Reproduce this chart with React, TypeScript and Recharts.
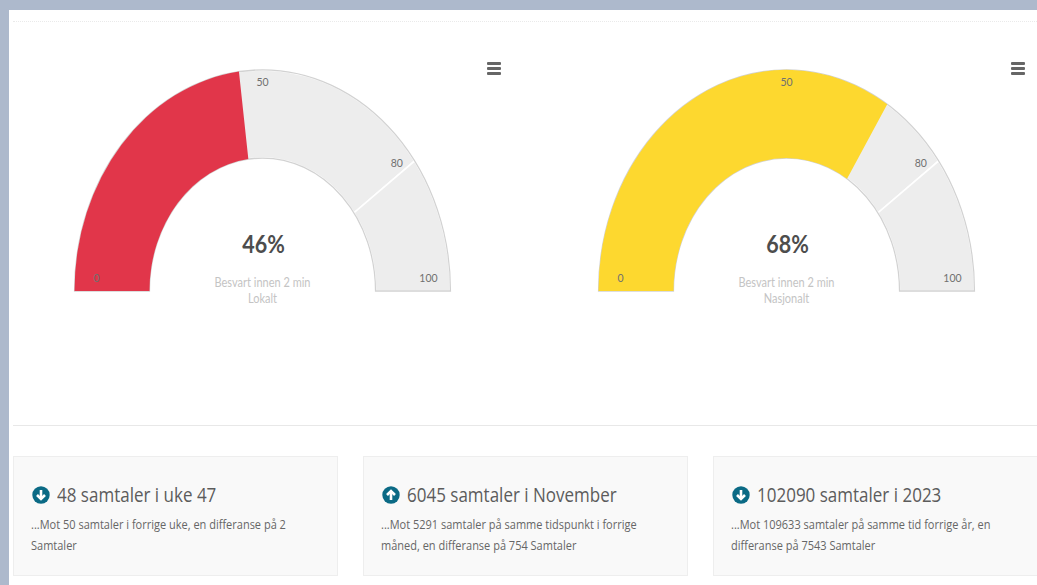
import { PieChart, Pie, Cell } from "recharts";

const gaugeTitles = ["Lokalt", "Nasjonalt"];
const gaugeValues = [46, 68];
const gaugeColors = ["#e1364a", "#fdd82f"];
const axisTicks = [0, 50, 80, 100];
const tickSpans = [0, 50, 30, 20];
const bandValues = [80, 20];
const cardUp = [false, true, false];
const cardTitles = ["48 samtaler i uke 47", "6045 samtaler i November", "102090 samtaler i 2023"];
const cardLines = [
  ["...Mot 50 samtaler i forrige uke, en differanse på 2", "Samtaler"],
  ["...Mot 5291 samtaler på samme tidspunkt i forrige", "måned, en differanse på 754 Samtaler"],
  ["...Mot 109633 samtaler på samme tid forrige år, en", "differanse på 7543 Samtaler"],
];

const CX = 250.5;
const CY = 228.7;
const OUTER = 188;
const INNER = 113;
const STRETCH = 1.176;
const gaugeFont = "Lato, 'Open Sans', sans-serif";

// tick label sits at the end angle of its span, 22px inside the rim and lifted 12px like the original
function renderTick(props: any) {
  const a = (props.endAngle * Math.PI) / 180;
  return (
    <text key={props.index} x={props.cx + 166 * Math.cos(a)} y={props.cy - 166 * Math.sin(a) - 12} dy={4} fontFamily={gaugeFont} fontSize={10.5} textAnchor="middle" fill="#707070">
      {axisTicks[props.index]}
    </text>
  );
}

function GaugeText({ value, title }: { value: number; title: string }) {
  return (
    <g fontFamily={gaugeFont} textAnchor="middle">
      <text x={CX + 1} y={CY - 32} fontSize={21.5} fontWeight={700} fill="#4d4d4d">{value}%</text>
      <text x={CX} y={CY - 3} fontSize={11} fill="#c4c4c4">Besvart innen 2 min</text>
      <text x={CX} y={CY + 10} fontSize={11} fill="#c4c4c4">{title}</text>
    </g>
  );
}

function Gauge({ value, color, title, left }: { value: number; color: string; title: string; left: number }) {
  const common = { cx: CX, cy: CY, startAngle: 180, endAngle: 0, innerRadius: INNER, outerRadius: OUTER, dataKey: "v", isAnimationActive: false };
  return (
    <div style={{ position: "absolute", left, top: 22, transform: `scaleY(${STRETCH})`, transformOrigin: "top left" }}>
      <PieChart width={505} height={300} margin={{ top: 0, right: 0, bottom: 0, left: 0 }}>
        <Pie {...common} data={bandValues.map(v => ({ v }))} fill="#ededed" stroke="#fff" strokeWidth={1.5} />
        <Pie {...common} data={[{ v: 100 }]} fill="none" stroke="#d2d2d2" strokeWidth={1.2} />
        <Pie {...common} data={[{ v: value }, { v: 100 - value }]} stroke="none">
          <Cell fill={color} />
          <Cell fill="none" />
        </Pie>
        <Pie {...common} data={tickSpans.map(v => ({ v }))} fill="none" stroke="none" label={renderTick} labelLine={false} />
        <GaugeText value={value} title={title} />
      </PieChart>
    </div>
  );
}

function MenuIcon({ left }: { left: number }) {
  return (
    <div style={{ position: "absolute", left, top: 62 }}>
      {[0, 1, 2].map(i => (
        <div key={i} style={{ width: 14, height: 3, marginBottom: 2, background: "#666", borderRadius: 1 }} />
      ))}
    </div>
  );
}

function ArrowIcon({ up }: { up: boolean }) {
  return (
    <svg width={18} height={18} viewBox="0 0 18 18" style={{ position: "absolute", left: 18, top: 29 }}>
      <circle cx={9} cy={9} r={8.7} fill="#0b6a85" />
      <g transform={up ? "rotate(180 9 9)" : undefined} stroke="#fff" strokeWidth={2.6} fill="none">
        <path d="M9 4 V13" />
        <path d="M5 9 L9 13 L13 9" />
      </g>
    </svg>
  );
}

export default function App() {
  const stretched = { transform: `scaleY(${STRETCH})`, transformOrigin: "left center", whiteSpace: "nowrap" as const };
  return (
    <div style={{ position: "fixed", left: 0, top: 0, width: 1037, height: 585, overflow: "hidden", background: "#adb9cc" }}>
      <div style={{ position: "absolute", left: 9, top: 10, width: 1028, height: 575, background: "#fff" }} />
      <div style={{ position: "absolute", left: 13, top: 21, width: 1024, borderTop: "1px dotted #eaeaea" }} />
      {gaugeValues.map((v, i) => (
        <Gauge key={i} value={v} color={gaugeColors[i]} title={gaugeTitles[i]} left={i === 0 ? 12 : 535.5} />
      ))}
      <MenuIcon left={487} />
      <MenuIcon left={1011} />
      <div style={{ position: "absolute", left: 13, top: 425, width: 1024, borderTop: "1px solid #e8e8e8" }} />
      {cardTitles.map((t, i) => (
        <div key={t} style={{ position: "absolute", left: 13 + i * 350, top: 456, width: 323, height: 118, background: "#f9f9f9", border: "1px solid #eeeeee", fontFamily: "'Open Sans', sans-serif" }}>
          <ArrowIcon up={cardUp[i]} />
          <div style={{ ...stretched, position: "absolute", left: 43, top: 24.5, fontSize: 17, lineHeight: "25px", color: "#5c5c5c" }}>{t}</div>
          {cardLines[i].map((l, j) => (
            <div key={j} style={{ ...stretched, position: "absolute", left: 17, top: 56 + j * 21, fontSize: 11, lineHeight: "21px", color: "#666" }}>{l}</div>
          ))}
        </div>
      ))}
    </div>
  );
}
